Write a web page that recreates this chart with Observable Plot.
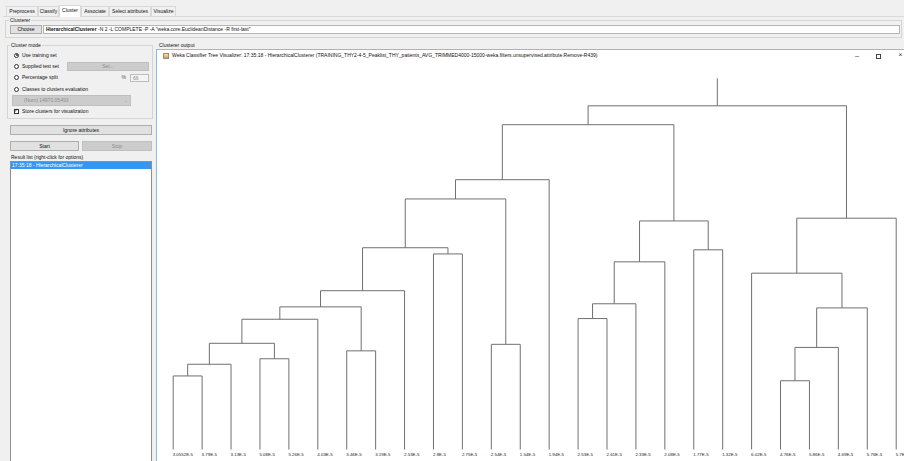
<!DOCTYPE html>
<html>
<head>
<meta charset="utf-8">
<script src="https://cdn.jsdelivr.net/npm/d3@7"></script>
<script src="https://cdn.jsdelivr.net/npm/@observablehq/plot@0.6"></script>
<style>
  html, body { margin: 0; padding: 0; }
  body {
    width: 904px; height: 461px; overflow: hidden; position: relative;
    background: #f0f0f0; color: #111;
    font-family: "Liberation Sans", Arial, sans-serif; font-size: 5px;
  }
  .a { position: absolute; white-space: nowrap; line-height: 1; }
  .box { position: absolute; box-sizing: border-box; white-space: nowrap; }
  .btn { background: #e1e1e1; border: 1px solid #adadad; text-align: center; }
  .off { background: #cccccc; border: 1px solid #bfbfbf; color: #8c8c8c; text-align: center; }
  .tab { position: absolute; top: 6px; height: 10px; line-height: 9px; box-sizing: border-box;
         border: 1px solid #d9d9d9; border-bottom: none; text-align: center; background: #f0f0f0; }
  .group { position: absolute; box-sizing: border-box; border: 1px solid #d5d5d5; }
  .legend { position: absolute; background: #f0f0f0; padding: 0 1px; line-height: 1; white-space: nowrap; }
  .radio { position: absolute; width: 5px; height: 5px; box-sizing: border-box; border: 1px solid #333;
           border-radius: 50%; background: #fff; }
  .radio.on::after { content: ""; position: absolute; left: 0.5px; top: 0.5px; width: 2px; height: 2px;
           border-radius: 50%; background: #333; }
  #chart { position: absolute; left: 158px; top: 62px; width: 746px; height: 399px; background: #fff; }
</style>
</head>
<body>

<!-- tab strip -->
<div class="tab" style="left:6px;width:32px;">Preprocess</div>
<div class="tab" style="left:38px;width:21px;">Classify</div>
<div class="tab" style="left:59px;width:22px;top:5px;height:12px;background:#fff;z-index:2;">Cluster</div>
<div class="tab" style="left:81px;width:28px;">Associate</div>
<div class="tab" style="left:109px;width:42px;">Select attributes</div>
<div class="tab" style="left:151px;width:25px;">Visualize</div>
<div class="box" style="left:3px;top:16px;width:901px;height:1px;background:#d9d9d9;"></div>

<!-- clusterer chooser -->
<div class="group" style="left:5px;top:20px;width:897px;height:18px;"></div>
<div class="legend" style="left:9px;top:18px;">Clusterer</div>
<div class="box btn" style="left:10px;top:25px;width:32px;height:9px;line-height:7px;">Choose</div>
<div class="box" style="left:43px;top:25px;width:857px;height:9px;line-height:7px;background:#fff;border:1px solid #b5b5b5;padding-left:2px;">
  <b>HierarchicalClusterer</b> -N 2 -L COMPLETE -P -A "weka.core.EuclideanDistance -R first-last"
</div>

<!-- cluster mode -->
<div class="group" style="left:7px;top:45px;width:146px;height:74px;"></div>
<div class="legend" style="left:10px;top:43px;">Cluster mode</div>
<div class="radio on" style="left:14px;top:52.5px;"></div>
<div class="a" style="left:22px;top:52.5px;">Use training set</div>
<div class="radio" style="left:14px;top:63.5px;"></div>
<div class="a" style="left:22px;top:63.5px;">Supplied test set</div>
<div class="box off" style="left:67px;top:62px;width:82px;height:9px;line-height:7px;">Set...</div>
<div class="radio" style="left:14px;top:75px;"></div>
<div class="a" style="left:22px;top:75.2px;">Percentage split</div>
<div class="a" style="left:121.5px;top:75.2px;color:#555;">%</div>
<div class="box" style="left:130px;top:73.5px;width:19px;height:8.5px;line-height:6.5px;background:#f4f4f4;border:1px solid #bdbdbd;color:#8c8c8c;padding-left:2px;">66</div>
<div class="radio" style="left:14px;top:86.5px;"></div>
<div class="a" style="left:22px;top:86.5px;">Classes to clusters evaluation</div>
<div class="box off" style="left:12px;top:95px;width:119px;height:10.5px;line-height:8.5px;text-align:left;padding-left:11px;">(Num) 14970.05493</div>
<div class="a" style="left:124px;top:97.5px;color:#9a9a9a;font-size:5px;">&#8964;</div>
<div class="box" style="left:14px;top:108.5px;width:5px;height:5px;border:1px solid #333;background:#fff;"></div>
<div class="a" style="left:14.3px;top:108px;font-size:5px;">&#10003;</div>
<div class="a" style="left:22px;top:108.5px;">Store clusters for visualization</div>

<div class="box btn" style="left:10px;top:125px;width:142px;height:10px;line-height:8px;">Ignore attributes</div>
<div class="box btn" style="left:10px;top:140.5px;width:69px;height:10px;line-height:8px;">Start</div>
<div class="box off" style="left:82px;top:140.5px;width:70px;height:10px;line-height:8px;">Stop</div>

<!-- result list -->
<div class="a" style="left:11px;top:154.5px;">Result list (right-click for options)</div>
<div class="box" style="left:10px;top:160.5px;width:142px;height:310px;background:#fff;border:1px solid #8c9096;"></div>
<div class="box" style="left:11px;top:161.5px;width:140px;height:7px;line-height:7px;background:#3397f3;color:#fff;padding-left:1px;">17:35:18 - HierarchicalClusterer</div>

<!-- clusterer output / tree visualizer window -->
<div class="a" style="left:159px;top:42.5px;">Clusterer output</div>
<div class="box" style="left:156px;top:49px;width:748px;height:412px;background:#fff;border-left:1px solid #8fb9e6;border-top:1px solid #8fb9e6;"></div>
<div class="box" style="left:163px;top:53px;width:6px;height:6px;background:linear-gradient(#f3e3b0,#c9a45a);border:1px solid #9a8a70;"></div>
<div class="a" style="left:172px;top:53.2px;color:#111;">Weka Classifier Tree Visualizer: 17:35:18 - HierarchicalClusterer (TRAINING_THY2-4-5_Peaklist_THY_patients_AVG_TRIMMED4000-15000-weka.filters.unsupervised.attribute.Remove-R439)</div>
<div class="a" style="left:855px;top:51.5px;font-size:7px;color:#333;">&#8211;</div>
<div class="box" style="left:876px;top:53.5px;width:5px;height:5px;border:1px solid #444;"></div>
<div class="a" style="left:898.5px;top:51.8px;font-size:6.5px;color:#333;">&#215;</div>

<div id="chart"></div>

<script>
// Leaf labels, left to right along the bottom of the tree
const leafLabels = [
  "3.0552E-5", "3.79E-5", "3.13E-5", "5.08E-5", "5.26E-5", "4.03E-5", "3.46E-5", "3.19E-5",
  "2.53E-5", "2.8E-5", "2.75E-5", "2.54E-5", "1.54E-5", "1.94E-5", "2.53E-5", "2.61E-5",
  "2.33E-5", "2.08E-5", "1.77E-5", "1.32E-5", "6.02E-5", "4.76E-5", "5.86E-5", "4.69E-5",
  "5.76E-5", "5.7E-5"
];

// Merge steps: node ids 0..25 are leaves, merge k creates node 26 + k
const mergeLeft  = [0, 26, 3, 27, 29, 6, 30, 32, 9, 33, 11, 35, 37, 14, 39, 40, 18, 41, 38, 21, 45, 46, 20, 48, 44];
const mergeRight = [1, 2, 4, 28, 5, 7, 31, 8, 10, 34, 12, 36, 13, 15, 16, 17, 19, 42, 43, 22, 23, 24, 47, 25, 49];
// Linkage distance of each merge (relative to the root merge)
const mergeHeights = [
  0.214, 0.248, 0.264, 0.309, 0.379, 0.287, 0.415, 0.462, 0.569, 0.587,
  0.306, 0.729, 0.785, 0.381, 0.424, 0.546, 0.581, 0.665, 0.945, 0.200,
  0.297, 0.412, 0.513, 0.673, 1.000
];
const rootStemTop = 1.08;

// Build elbow segments for the dendrogram
const nodeX = leafLabels.map((_, i) => i);
const nodeH = leafLabels.map(() => 0);
const segments = [];
mergeLeft.forEach((a, k) => {
  const b = mergeRight[k];
  const h = mergeHeights[k];
  segments.push({x1: nodeX[a], y1: nodeH[a], x2: nodeX[a], y2: h});
  segments.push({x1: nodeX[b], y1: nodeH[b], x2: nodeX[b], y2: h});
  segments.push({x1: nodeX[a], y1: h, x2: nodeX[b], y2: h});
  nodeX.push((nodeX[a] + nodeX[b]) / 2);
  nodeH.push(h);
});
const root = nodeX.length - 1;
segments.push({x1: nodeX[root], y1: nodeH[root], x2: nodeX[root], y2: rootStemTop});

const leaves = leafLabels.map((label, i) => ({i, label}));

const chart = Plot.plot({
  width: 746,
  height: 399,
  marginTop: 0, marginRight: 0, marginBottom: 0, marginLeft: 0,
  style: {background: "white", fontFamily: "Liberation Sans, Arial, sans-serif"},
  x: {domain: [0, leafLabels.length - 1], range: [14.7, 737.7], axis: null},
  y: {domain: [0, 1], range: [387, 43.3], axis: null},
  marks: [
    Plot.link(segments, {x1: "x1", y1: "y1", x2: "x2", y2: "y2", stroke: "#707070", strokeWidth: 1}),
    Plot.text(leaves, {
      x: "i", y: 0, text: "label", textAnchor: "start", lineAnchor: "middle",
      dy: 5.5, dx: -0.5, fontSize: 4.4, fill: "#222"
    })
  ]
});
document.getElementById("chart").appendChild(chart);
</script>
</body>
</html>
